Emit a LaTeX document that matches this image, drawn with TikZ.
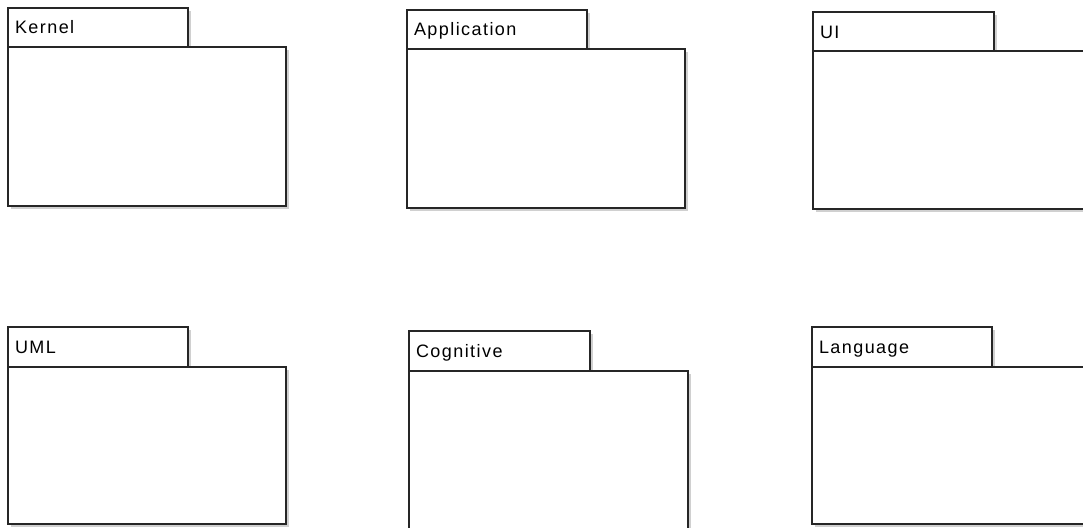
\documentclass[tikz,border=0pt]{standalone}
\usepackage{fontspec}
\setmainfont{Liberation Sans}
\usetikzlibrary{shadows}
\definecolor{pkgline}{HTML}{262626}
\definecolor{pkgshadow}{HTML}{D0D0D0}
\tikzset{
  pkgshade/.style={drop shadow={shadow xshift=3pt, shadow yshift=-3pt, fill=pkgshadow, opacity=1}},
  pkgtab/.style={draw=pkgline, line width=1.8pt, fill=white, pkgshade,
    anchor=north west, outer sep=0pt, minimum width=180pt, minimum height=39pt,
    inner xsep=7pt, inner ysep=0pt, text width=166pt, align=left,
    text height=13pt, text depth=0pt,
    font=\fontsize{18}{21}\selectfont\addfontfeature{LetterSpace=8}},
  pkgbody/.style={draw=pkgline, line width=1.8pt, fill=white, pkgshade,
    anchor=north west, outer sep=0pt, minimum width=278pt, minimum height=158pt, inner sep=0pt},
}
\begin{document}
\begin{tikzpicture}[x=1pt, y=-1pt]
  \fill[white] (0,0) rectangle (1083,527);
  \useasboundingbox (0,0) rectangle (1083,527);

  % top row
  \node[pkgtab] (kernelTab) at (8,8) {Kernel};
  \node[pkgbody, minimum height=159pt] (kernelBody) at (kernelTab.south west) {};

  \node[pkgtab] (appTab) at (407,10) {Application};
  \node[pkgbody, minimum height=159pt] (appBody) at (appTab.south west) {};

  \node[pkgtab, minimum width=181pt, text width=167pt] (uiTab) at (813,12) {UI};
  \node[pkgbody] (uiBody) at (uiTab.south west) {};

  % bottom row
  \node[pkgtab, minimum height=40pt] (umlTab) at (8,327) {UML};
  \node[pkgbody, minimum height=157pt] (umlBody) at (umlTab.south west) {};

  \node[pkgtab, minimum height=40pt, minimum width=181pt, text width=167pt] (cogTab) at (409,331) {Cognitive};
  \node[pkgbody, minimum width=279pt, minimum height=160pt] (cogBody) at (cogTab.south west) {};

  \node[pkgtab, minimum height=40pt] (langTab) at (812,327) {Language};
  \node[pkgbody, minimum height=157pt] (langBody) at (langTab.south west) {};
\end{tikzpicture}
\end{document}
